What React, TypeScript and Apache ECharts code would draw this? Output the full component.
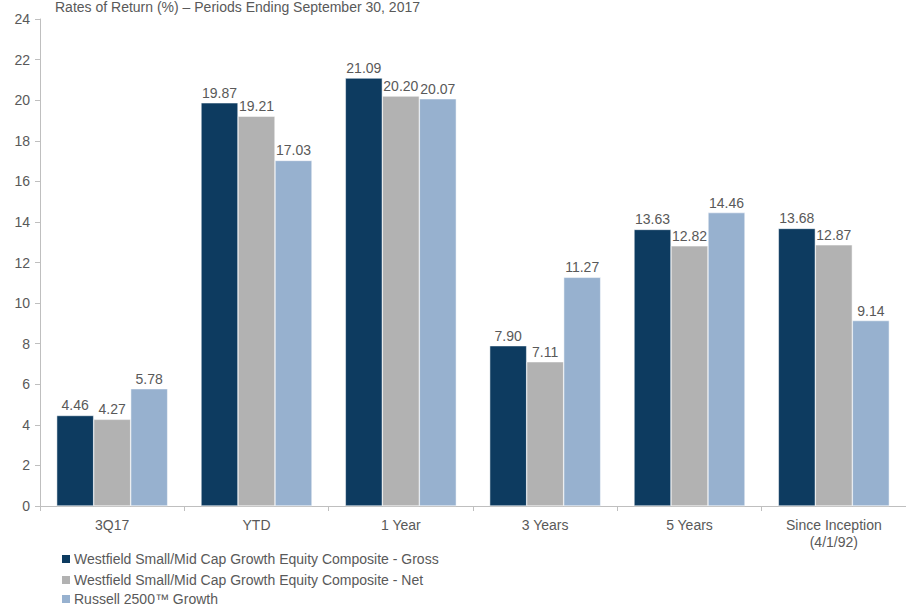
import React, { useEffect, useRef } from "react";
import * as echarts from "echarts";

const categories = ["3Q17", "YTD", "1 Year", "3 Years", "5 Years", "Since Inception\n(4/1/92)"];
const grossName = "Westfield Small/Mid Cap Growth Equity Composite - Gross";
const netName = "Westfield Small/Mid Cap Growth Equity Composite - Net";
const benchName = "Russell 2500™ Growth";
const grossValues = [4.46, 19.87, 21.09, 7.9, 13.63, 13.68];
const netValues = [4.27, 19.21, 20.2, 7.11, 12.82, 12.87];
const benchValues = [5.78, 17.03, 20.07, 11.27, 14.46, 9.14];
const titleText = "Rates of Return (%) – Periods Ending September 30, 2017";

const FONT = "'Liberation Sans', Arial, sans-serif";
const TXT = "#595959";

export default function App() {
  const ref = useRef<HTMLDivElement>(null);
  useEffect(() => {
    if (!ref.current) return;
    const chart = echarts.init(ref.current, null, { renderer: "svg" });
    const label = {
      show: true,
      position: "top",
      distance: 3,
      color: TXT,
      fontSize: 14,
      fontFamily: FONT,
      formatter: (p: any) => Number(p.value).toFixed(2),
    };
    const mk = (name: string, data: number[], color: string) => ({
      name,
      type: "bar",
      data,
      barWidth: 37,
      barGap: "0%",
      itemStyle: { color, borderColor: "#ffffff", borderWidth: 0.5 },
      label,
    });
    const legendBase = {
      left: 60,
      itemWidth: 10,
      itemHeight: 10,
      icon: "rect",
      padding: 0,
      textStyle: { color: TXT, fontSize: 14, fontFamily: FONT, padding: [0, 0, 0, -2] },
    };
    chart.setOption({
      animation: false,
      textStyle: { fontFamily: FONT },
      graphic: [
        {
          type: "text",
          left: 55,
          top: 0,
          style: { text: titleText, fill: TXT, font: `14px ${FONT}` },
        },
      ],
      grid: { left: 40, top: 19, right: -4, bottom: 103, containLabel: false },
      legend: [
        { ...legendBase, top: 552, data: [grossName] },
        { ...legendBase, top: 573, data: [netName] },
        { ...legendBase, top: 592, data: [benchName] },
      ],
      xAxis: {
        type: "category",
        data: categories,
        axisLine: { lineStyle: { color: "#BFBFBF" } },
        axisTick: { show: true, length: 5, lineStyle: { color: "#BFBFBF" } },
        axisLabel: { color: TXT, fontSize: 14, fontFamily: FONT, margin: 10, lineHeight: 17, interval: 0 },
      },
      yAxis: {
        type: "value",
        min: 0,
        max: 24,
        interval: 2,
        axisLine: { show: true, lineStyle: { color: "#BFBFBF" } },
        axisTick: { show: true, length: 5, lineStyle: { color: "#BFBFBF" } },
        splitLine: { show: false },
        axisLabel: { color: TXT, fontSize: 14, fontFamily: FONT, margin: 10 },
      },
      series: [
        mk(grossName, grossValues, "#0D3B60"),
        mk(netName, netValues, "#B2B2B2"),
        mk(benchName, benchValues, "#97B1CF"),
      ],
    });
    return () => chart.dispose();
  }, []);
  return <div ref={ref} style={{ width: 906, height: 609, position: "absolute", left: 0, top: 0, background: "#fff" }} />;
}
